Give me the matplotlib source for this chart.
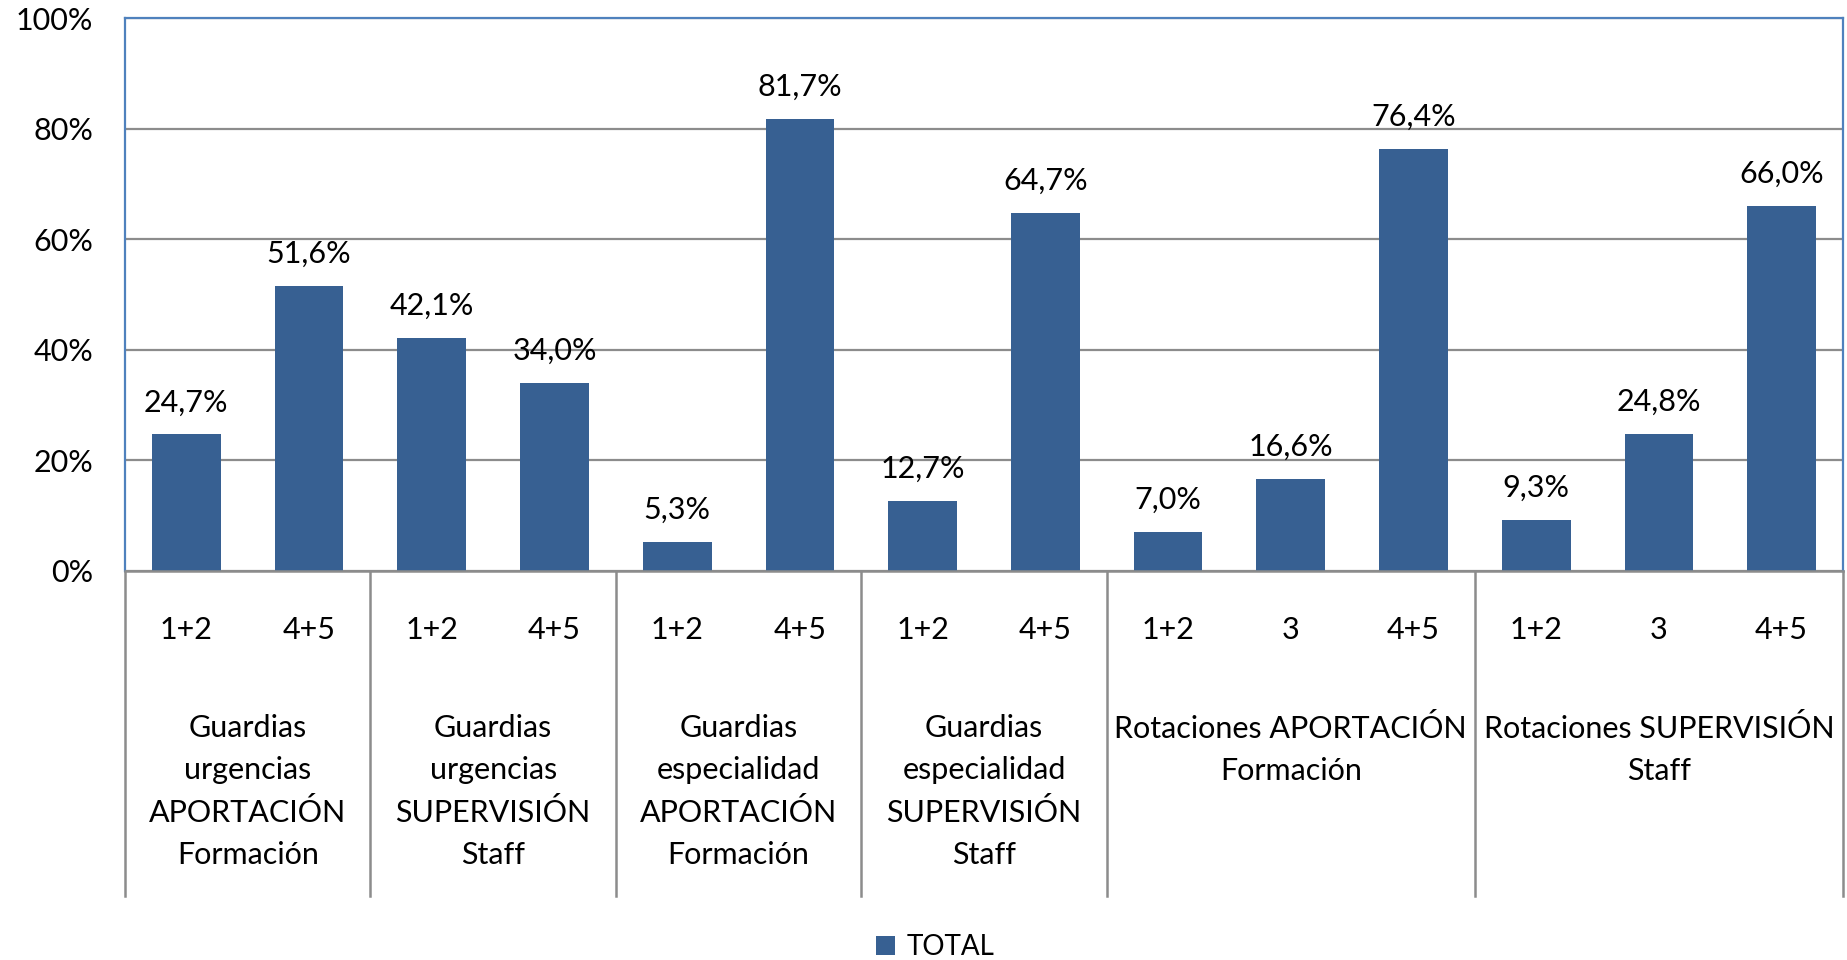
import matplotlib
matplotlib.use("Agg")
import matplotlib.pyplot as plt
from matplotlib.patches import Patch

plt.rcParams['font.family'] = ['Lato', 'DejaVu Sans']

# Data
sub_labels = ["1+2", "4+5", "1+2", "4+5", "1+2", "4+5", "1+2", "4+5",
              "1+2", "3", "4+5", "1+2", "3", "4+5"]
values = [24.7, 51.6, 42.1, 34.0, 5.3, 81.7, 12.7, 64.7,
          7.0, 16.6, 76.4, 9.3, 24.8, 66.0]
group_labels = [
    "Guardias\nurgencias\nAPORTACIÓN\nFormación",
    "Guardias\nurgencias\nSUPERVISIÓN\nStaff",
    "Guardias\nespecialidad\nAPORTACIÓN\nFormación",
    "Guardias\nespecialidad\nSUPERVISIÓN\nStaff",
    "Rotaciones APORTACIÓN\nFormación",
    "Rotaciones SUPERVISIÓN\nStaff",
]
group_sizes = [2, 2, 2, 2, 3, 3]
series_name = "TOTAL"
y_ticks = [0, 20, 40, 60, 80, 100]

BAR_COLOR = "#376092"
FRAME_COLOR = "#4F81BD"
GRID_COLOR = "#8C8C8C"
FS = 22

W, H = 1847, 960
fig = plt.figure(figsize=(W / 100, H / 100), dpi=100)
ax_left, ax_right, ax_top, ax_bottom = 125, 1843, 18, 571
ax = fig.add_axes([ax_left / W, 1 - ax_bottom / H,
                   (ax_right - ax_left) / W, (ax_bottom - ax_top) / H])
ax_h = ax_bottom - ax_top

x = list(range(len(values)))
ax.bar(x, values, width=0.56, color=BAR_COLOR, zorder=3)
ax.set_xlim(-0.5, len(values) - 0.5)
ax.set_ylim(0, 100)

ax.set_yticks(y_ticks)
ax.set_yticklabels([f"{t}%" for t in y_ticks], fontsize=FS)
ax.tick_params(axis='y', length=0, pad=23)
ax.set_xticks([])
ax.yaxis.grid(True, color=GRID_COLOR, linewidth=1.6, zorder=0)
ax.set_axisbelow(True)

for side in ("top", "left", "right"):
    ax.spines[side].set_color(FRAME_COLOR)
    ax.spines[side].set_linewidth(1.6)
ax.spines["bottom"].set_color(GRID_COLOR)
ax.spines["bottom"].set_linewidth(1.8)
ax.spines["bottom"].set_zorder(4)

# Value labels
for xi, v in zip(x, values):
    ax.annotate(f"{v:.1f}%".replace(".", ","), (xi, v), xytext=(0, 13),
                textcoords="offset points", ha="center", va="bottom",
                fontsize=FS)

xt = ax.get_xaxis_transform()

# Sub-category labels
for xi, lab in zip(x, sub_labels):
    ax.text(xi, -(630 - ax_bottom) / ax_h, lab, transform=xt,
            ha="center", va="center", fontsize=FS)

# Group labels and separators
sep_bottom = -(896 - ax_bottom) / ax_h
start = 0
bounds = [-0.5]
for g, n in zip(group_labels, group_sizes):
    center = start + (n - 1) / 2
    ax.text(center, -(714 - ax_bottom) / ax_h, g, transform=xt,
            ha="center", va="top", fontsize=FS, linespacing=1.6)
    start += n
    bounds.append(start - 0.5)
for b in bounds:
    ax.plot([b, b], [0, sep_bottom], transform=xt, color=GRID_COLOR,
            linewidth=1.8, clip_on=False, zorder=2)

# Legend
fig.legend(handles=[Patch(facecolor=BAR_COLOR, label=series_name)],
           loc="center", bbox_to_anchor=(935 / W, 1 - 947 / H),
           frameon=False, fontsize=20, handlelength=0.7,
           handleheight=0.7, handletextpad=0.4)

fig.savefig("out.png", dpi=100)
